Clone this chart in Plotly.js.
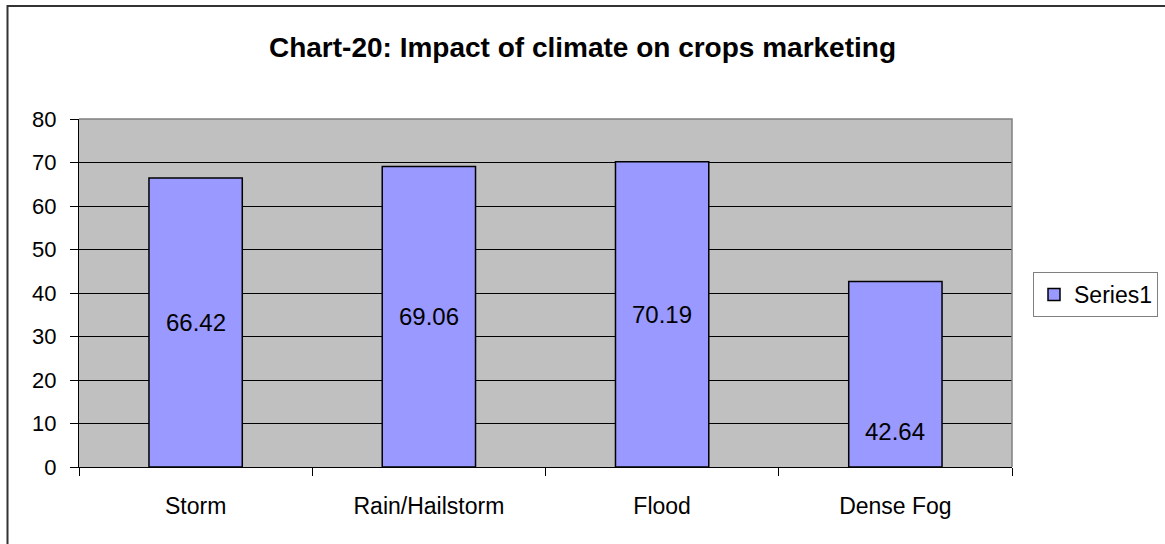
<!DOCTYPE html>
<html>
<head>
<meta charset="utf-8">
<script src="https://cdn.plot.ly/plotly-3.0.1.min.js"></script>
<style>html,body{margin:0;padding:0;background:#fff;}#chart{width:1165px;height:544px;}</style>
</head>
<body>
<div id="chart"></div>
<script>
const categories = ["Storm", "Rain/Hailstorm", "Flood", "Dense Fog"];
const values = [66.42, 69.06, 70.19, 42.64];
const seriesName = "Series1";
const yTicks = [0, 10, 20, 30, 40, 50, 60, 70, 80];

const FONT = "Arial, 'Liberation Sans', sans-serif";

// label positions: centred in bar, except the last one which sits low in the bar
const labelY = values.map((v, i) => (i === values.length - 1 ? v * 0.19 : v / 2));

const trace = {
  type: "bar",
  x: categories,
  y: values,
  name: seriesName,
  marker: { color: "#9999FF", line: { color: "#000000", width: 1.5 } },
  showlegend: true,
  hoverinfo: "x+y"
};

const annotations = categories.map((c, i) => ({
  x: c, y: labelY[i], xref: "x", yref: "y",
  text: values[i].toFixed(2), showarrow: false,
  font: { family: FONT, size: 24, color: "#000" },
  xanchor: "center", yanchor: "middle"
}));

const L = 79, R = 1012, T = 119, B = 467, W = 1165, H = 544;
const pw = R - L, ph = B - T;
const px = (X) => (X - L) / pw;
const py = (Y) => (B - Y) / ph;

const layout = {
  width: W, height: H,
  margin: { l: L, r: W - R, t: T, b: H - B, pad: 0, autoexpand: false },
  paper_bgcolor: "#ffffff",
  plot_bgcolor: "#C0C0C0",
  font: { family: FONT, color: "#000" },
  title: {
    text: "<b>Chart-20: Impact of climate on crops marketing</b>",
    font: { family: FONT, size: 28, color: "#000" },
    x: 0.5, xref: "container", xanchor: "center",
    y: 1 - 47 / H, yref: "container", yanchor: "middle"
  },
  bargap: 0.6,
  xaxis: {
    type: "category",
    showgrid: false,
    showline: true, linecolor: "#000", linewidth: 1,
    ticks: "outside", tickson: "boundaries", ticklen: 8, tickcolor: "#000", tickwidth: 1,
    tickfont: { family: FONT, size: 23, color: "#000" },
    ticklabelstandoff: 18,
    zeroline: false,
    automargin: false,
    fixedrange: true
  },
  yaxis: {
    range: [0, 80],
    tickvals: yTicks,
    ticktext: yTicks.map(String),
    showgrid: true, gridcolor: "#000", gridwidth: 1,
    showline: true, linecolor: "#000", linewidth: 1,
    ticks: "outside", ticklen: 8, tickcolor: "#000", tickwidth: 1,
    tickfont: { family: FONT, size: 22, color: "#000" },
    ticklabelstandoff: 9,
    zeroline: false,
    automargin: false,
    fixedrange: true
  },
  legend: {
    x: px(1033), y: py(272), xanchor: "left", yanchor: "top",
    xref: "paper", yref: "paper",
    bgcolor: "#ffffff", bordercolor: "#808080", borderwidth: 1,
    font: { family: FONT, size: 23, color: "#000" },
    itemwidth: 30
  },
  showlegend: true,
  annotations: annotations,
  shapes: [
    { type: "path", xref: "paper", yref: "paper",
      path: `M 0 1 L 1 1 L 1 0`, line: { color: "#808080", width: 1.5 }, layer: "above" },
    { type: "path", xref: "paper", yref: "paper",
      path: `M ${px(7.5)} ${py(560)} L ${px(7.5)} ${py(6)} L ${px(1180)} ${py(6)}`,
      line: { color: "#333333", width: 2 }, layer: "above" }
  ]
};

Plotly.newPlot("chart", [trace], layout, { displayModeBar: false, staticPlot: true });
</script>
</body>
</html>
